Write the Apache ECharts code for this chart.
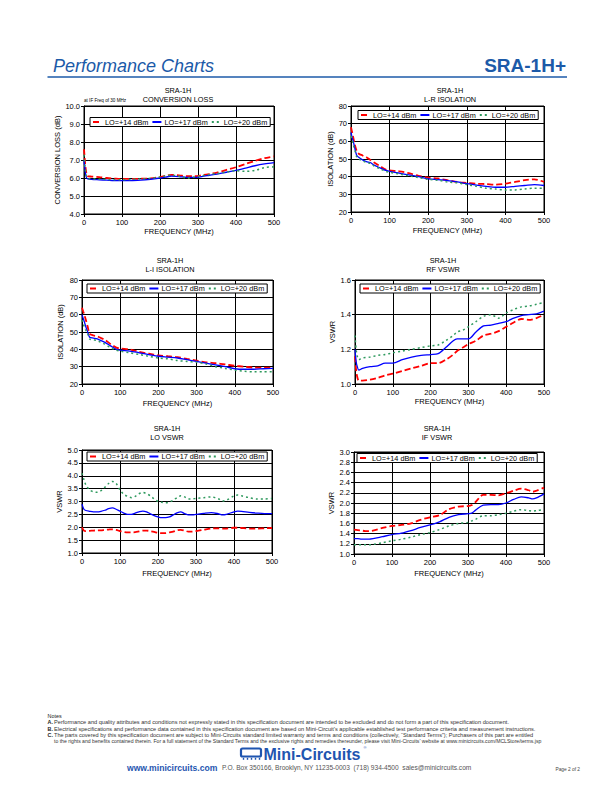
<!DOCTYPE html>
<html><head><meta charset="utf-8">
<script src="https://cdn.jsdelivr.net/npm/echarts@6/dist/echarts.min.js"></script>
<style>html,body{margin:0;padding:0;background:#fff}#c{width:612px;height:792px}</style>
</head><body><div id="c"></div>
<script>
// ---------------- DATA ----------------
const seriesNames = ['LO=+14 dBm', 'LO=+17 dBm', 'LO=+20 dBm'];
const partNo = 'SRA-1H';

// Conversion loss (dB)
const clFreq = [0,3,6,10,20,40,60,80,100,125,150,175,200,215,230,250,270,290,310,330,350,375,400,425,450,475,500];
const clLo14 = [7.6,6.8,6.3,6.1,6.08,6.05,6.0,5.97,5.95,5.95,5.96,5.98,6.05,6.12,6.17,6.15,6.1,6.1,6.15,6.22,6.3,6.45,6.6,6.78,6.95,7.1,7.2];
const clLo17 = [7.0,6.4,6.05,5.95,5.92,5.9,5.88,5.86,5.85,5.86,5.88,5.93,6.0,6.05,6.1,6.08,6.03,6.03,6.08,6.15,6.22,6.32,6.42,6.55,6.68,6.78,6.85];
const clLo20 = [7.3,6.6,6.15,5.98,5.95,5.93,5.92,5.9,5.9,5.92,5.95,5.98,6.05,6.12,6.15,6.1,6.0,6.05,6.12,6.2,6.25,6.33,6.4,6.37,6.42,6.58,6.62];

// L-R isolation (dB)
const lrFreq = [0,3,6,10,15,20,30,40,50,60,75,90,100,125,150,175,200,225,250,275,300,325,350,375,400,425,450,475,500];
const lrLo14 = [68,65,62,58,54.5,53,52,51,49.5,48,46,44,43.5,43,42,40.5,39.5,39,38,37,36.5,36,35.8,35.5,36,37,38,38.5,37];
const lrLo17 = [65,62,60,56,52,51,49.5,48.5,48,46.5,45,43.5,43,42,41,40,38.8,38.3,37.8,37,36,35.2,34.5,34,34,34.5,35,35.5,35];
const lrLo20 = [63,61,58,55,51,50,49,48,47.5,46,44.5,43,42.5,41.5,40.5,39.5,38.5,38,37,36.5,35.5,34.5,33.5,33,32.5,32.5,33,33.5,33.5];

// L-I isolation (dB)
const liFreq = [0,3,6,10,15,20,30,40,50,60,75,90,100,125,150,175,200,225,250,275,300,325,350,375,400,425,450,475,500];
const liLo14 = [64,62,60,57,53,49,48,47.5,46.5,45.5,43,41,40.5,40,38.5,37.5,36.5,36,35.5,34.5,33.5,32.5,32,31.3,30.5,30,29.5,29.5,29.5];
const liLo17 = [60,58,56,53,50,47,46.5,46,45,44,42,40,39.5,39,38,37,36,35.5,35,34,33,32,31,30,28.8,28.5,28.5,28.8,29];
const liLo20 = [57,55,53,51,49,46,45.5,45,44,43,41,39.5,39,38,37,36,35,34.5,33.5,33,32.5,31.5,30,29,28,27.3,27,27,27];

// RF VSWR
const rfFreq = [0,3,6,10,20,40,60,80,100,125,150,175,200,220,240,260,270,285,300,320,340,360,380,400,420,440,460,480,500];
const rfLo14 = [1.16,1.08,1.04,1.02,1.02,1.025,1.035,1.05,1.06,1.075,1.09,1.105,1.12,1.12,1.14,1.17,1.19,1.21,1.23,1.25,1.28,1.29,1.305,1.33,1.355,1.375,1.37,1.38,1.40];
const rfLo17 = [1.2,1.13,1.1,1.08,1.09,1.1,1.105,1.12,1.12,1.14,1.155,1.165,1.17,1.175,1.21,1.25,1.26,1.26,1.26,1.3,1.335,1.34,1.35,1.36,1.38,1.395,1.4,1.405,1.42];
const rfLo20 = [1.28,1.2,1.16,1.14,1.15,1.155,1.165,1.17,1.18,1.19,1.2,1.21,1.22,1.225,1.25,1.28,1.3,1.31,1.33,1.36,1.39,1.40,1.38,1.41,1.43,1.445,1.45,1.46,1.47];

// LO VSWR
const loFreq = [0,5,10,20,30,40,50,60,70,80,90,100,110,120,130,140,150,160,170,180,190,200,210,220,230,240,250,260,270,280,290,300,320,340,360,370,380,400,410,420,440,460,480,500];
const loLo14 = [2.0,1.87,1.85,1.86,1.87,1.88,1.88,1.9,1.91,1.92,1.9,1.85,1.82,1.8,1.8,1.81,1.84,1.87,1.87,1.85,1.82,1.78,1.77,1.77,1.8,1.83,1.88,1.9,1.87,1.83,1.83,1.85,1.9,1.95,1.96,1.95,1.95,1.98,1.98,1.97,1.95,1.95,1.96,1.97];
const loLo17 = [2.9,2.7,2.65,2.62,2.6,2.6,2.62,2.66,2.72,2.75,2.7,2.62,2.55,2.5,2.5,2.55,2.6,2.63,2.6,2.52,2.45,2.4,2.37,2.37,2.4,2.48,2.56,2.6,2.53,2.48,2.48,2.5,2.54,2.57,2.52,2.48,2.5,2.6,2.63,2.62,2.58,2.55,2.53,2.53];
const loLo20 = [4.1,3.85,3.65,3.45,3.38,3.36,3.42,3.55,3.7,3.78,3.7,3.45,3.28,3.2,3.15,3.2,3.3,3.35,3.3,3.22,3.1,3.0,2.97,2.95,2.98,3.05,3.15,3.22,3.18,3.1,3.1,3.12,3.15,3.18,3.1,3.02,3.05,3.22,3.25,3.22,3.15,3.1,3.1,3.12];

// IF VSWR
const ifFreq = [0,10,20,30,40,50,75,100,125,150,175,200,225,250,275,300,310,320,340,360,380,400,420,440,460,470,480,500];
const ifLo14 = [1.48,1.47,1.46,1.45,1.45,1.46,1.51,1.55,1.57,1.6,1.67,1.72,1.76,1.88,1.93,1.94,1.96,2.02,2.16,2.16,2.15,2.19,2.24,2.28,2.25,2.22,2.24,2.3];
const ifLo17 = [1.3,1.3,1.29,1.29,1.29,1.3,1.34,1.38,1.41,1.46,1.52,1.57,1.63,1.72,1.77,1.79,1.8,1.86,1.96,1.97,1.97,2.0,2.07,2.12,2.1,2.08,2.1,2.18];
const ifLo20 = [1.18,1.18,1.18,1.18,1.18,1.19,1.22,1.26,1.29,1.33,1.38,1.42,1.48,1.55,1.6,1.62,1.65,1.68,1.75,1.75,1.77,1.8,1.84,1.87,1.85,1.84,1.85,1.87];

const noteLines = [
  ['A.', 'Performance and quality attributes and conditions not expressly stated in this specification document are intended to be excluded and do not form a part of this specification document.'],
  ['B.', 'Electrical specifications and performance data contained in this specification document are based on Mini-Circuit\u2019s applicable established test performance criteria and measurement instructions.'],
  ['C.', 'The parts covered by this specification document are subject to Mini-Circuits standard limited warranty and terms and conditions (collectively, \u201cStandard Terms\u201d); Purchasers of this part are entitled'],
  ['', 'to the rights and benefits contained therein. For a full statement of the Standard Terms and the exclusive rights and remedies thereunder, please visit Mini-Circuits\u2019 website at www.minicircuits.com/MCLStore/terms.jsp']
];

// ---------------- LAYOUT ----------------
const FONT = '"Liberation Sans", Arial, Helvetica, sans-serif';
const BLUE_HDR = '#1c5aa8';
const panels = [
  {title:'CONVERSION LOSS', freq:clFreq, ys:[clLo14,clLo17,clLo20], ymin:4, ymax:10, yint:1, dec:1, yname:'CONVERSION LOSS (dB)',
   grid:{left:84, top:106, width:190, height:108}, leg:{left:90, top:117.5}, tx:178, ty:90, xGap:13, yGap:19},
  {title:'L-R ISOLATION', freq:lrFreq, ys:[lrLo14,lrLo17,lrLo20], ymin:20, ymax:80, yint:10, dec:0, yname:'ISOLATION (dB)',
   grid:{left:351, top:106, width:193, height:106}, leg:{left:358, top:110.5}, tx:450, ty:90, xGap:14, yGap:17},
  {title:'L-I ISOLATION', freq:liFreq, ys:[liLo14,liLo17,liLo20], ymin:20, ymax:80, yint:10, dec:0, yname:'ISOLATION (dB)',
   grid:{left:82, top:280, width:191, height:104}, leg:{left:87, top:284}, tx:170, ty:260, xGap:15, yGap:18},
  {title:'RF VSWR', freq:rfFreq, ys:[rfLo14,rfLo17,rfLo20], ymin:1.0, ymax:1.6, yint:0.2, dec:1, yname:'VSWR',
   grid:{left:355, top:280, width:189, height:104}, leg:{left:360, top:284}, tx:443, ty:260, xGap:13, yGap:19},
  {title:'LO VSWR', freq:loFreq, ys:[loLo14,loLo17,loLo20], ymin:1.0, ymax:5.0, yint:0.5, dec:1, yname:'VSWR',
   grid:{left:82, top:450, width:190, height:103}, leg:{left:87, top:452}, tx:167, ty:428, xGap:16, yGap:18},
  {title:'IF VSWR', freq:ifFreq, ys:[ifLo14,ifLo17,ifLo20], ymin:1.0, ymax:3.0, yint:0.2, dec:1, yname:'VSWR',
   grid:{left:354, top:452, width:190, height:102}, leg:{left:357, top:453.5}, tx:437, ty:428, xGap:15, yGap:19}
];
const lineStyles = [
  {color:'#ff0000', width:1.8, type:[6,3]},
  {color:'#0000ff', width:1.3, type:'solid'},
  {color:'#2f9a5e', width:1.5, type:[2,3]}
];
const noteRightEdges = [510, 537, 534, 543];

const grids = [], xAxes = [], yAxes = [], series = [], legends = [], graphics = [];
const axisCommon = {
  axisLine:{show:true, onZero:false, lineStyle:{color:'#000', width:1}},
  axisTick:{show:true, length:3, lineStyle:{color:'#000', width:1}},
  splitLine:{show:true, lineStyle:{color:'#000', width:1}}
};
panels.forEach((p, i) => {
  grids.push(Object.assign({show:true, borderColor:'#000', borderWidth:1, containLabel:false}, p.grid));
  xAxes.push(Object.assign({}, axisCommon, {
    type:'value', gridIndex:i, min:0, max:500, interval:100,
    name:'FREQUENCY (MHz)', nameLocation:'middle', nameGap:p.xGap,
    nameTextStyle:{fontSize:7.5, color:'#000', fontFamily:FONT},
    axisLabel:{fontSize:7.5, color:'#000', fontFamily:FONT, margin:4}
  }));
  yAxes.push(Object.assign({}, axisCommon, {
    type:'value', gridIndex:i, min:p.ymin, max:p.ymax, interval:p.yint,
    name:p.yname, nameLocation:'middle', nameGap:p.yGap, nameRotate:90,
    nameTextStyle:{fontSize:7.5, color:'#000', fontFamily:FONT},
    axisLabel:{fontSize:7.5, color:'#000', fontFamily:FONT, margin:4,
      formatter: v => Number(v).toFixed(p.dec)}
  }));
  seriesNames.forEach((nm, k) => {
    series.push({
      type:'line', name:nm, xAxisIndex:i, yAxisIndex:i,
      data: p.freq.map((f, j) => [f, p.ys[k][j]]),
      symbol:'none', showSymbol:false, smooth:0.3, clip:true,
      lineStyle:Object.assign({}, lineStyles[k]),
      itemStyle:{color:lineStyles[k].color},
      animation:false
    });
  });
  legends.push({
    left:p.leg.left, top:p.leg.top, orient:'horizontal',
    data:seriesNames, selectedMode:false,
    itemWidth:9, itemHeight:6, itemGap:3, padding:[1,3,1,2],
    itemStyle:{opacity:0, borderWidth:0},
    lineStyle:{opacity:1},
    borderColor:'#000', borderWidth:1, backgroundColor:'#fff',
    textStyle:{fontSize:7.3, color:'#000', fontFamily:FONT, padding:[0,0,0,-2]}
  });
  graphics.push({type:'text', x:p.tx, y:p.ty, style:{text:partNo, font:'7.3px ' + FONT, fill:'#000', align:'center', verticalAlign:'middle'}});
  graphics.push({type:'text', x:p.tx, y:p.ty + 9.5, style:{text:p.title, font:'7.3px ' + FONT, fill:'#000', align:'center', verticalAlign:'middle'}});
});

// small note on conversion loss chart
graphics.push({type:'text', x:84, y:100.5, style:{text:'at IF Freq of 30 MHz', font:'4.6px ' + FONT, fill:'#000', align:'left', verticalAlign:'middle'}});

// Header
graphics.push({type:'text', x:53, y:65.5, style:{text:'Performance Charts', font:'italic 18px ' + FONT, fill:BLUE_HDR, align:'left', verticalAlign:'middle'}});
graphics.push({type:'text', x:566, y:65.5, style:{text:'SRA-1H+', font:'bold 19px ' + FONT, fill:BLUE_HDR, align:'right', verticalAlign:'middle'}});
graphics.push({type:'line', shape:{x1:47.5, y1:77, x2:567, y2:77}, style:{stroke:BLUE_HDR, lineWidth:1.3}});

// Notes (font size fitted per line to the reference line length)
const mctx = document.createElement('canvas').getContext('2d');
mctx.font = '10px ' + FONT;
graphics.push({type:'text', x:47.5, y:716, style:{text:'Notes', font:'5.4px ' + FONT, fill:'#222', align:'left', verticalAlign:'middle'}});
noteLines.forEach((ln, i) => {
  const y = 722.3 + i * 6.3;
  const bodyX = 54;
  const w = mctx.measureText(ln[1]).width;
  let fs = 10 * (noteRightEdges[i] - bodyX) / w;
  fs = Math.max(4.5, Math.min(6.2, fs));
  if (ln[0]) graphics.push({type:'text', x:47.5, y:y, style:{text:ln[0], font:'bold 5.4px ' + FONT, fill:'#222', align:'left', verticalAlign:'middle'}});
  graphics.push({type:'text', x:bodyX, y:y, style:{text:ln[1], font:fs.toFixed(2) + 'px ' + FONT, fill:'#333', align:'left', verticalAlign:'middle'}});
});

// Footer logo
graphics.push({type:'rect', shape:{x:241, y:748.5, width:20, height:8, r:1.5}, style:{fill:'none', stroke:'#1f55b0', lineWidth:2.2}});
[243.5, 247.5, 251.5, 255.5, 259.5].forEach(px => {
  graphics.push({type:'rect', shape:{x:px - 0.7, y:757.8, width:1.4, height:2}, style:{fill:'#1f55b0'}});
});
graphics.push({type:'text', x:263.5, y:754, style:{text:'Mini-Circuits', font:'bold 16px ' + FONT, fill:'#1f55b0', align:'left', verticalAlign:'middle'}});
graphics.push({type:'text', x:363.5, y:747, style:{text:'\u00ae', font:'4px ' + FONT, fill:'#1f55b0', align:'left', verticalAlign:'middle'}});
graphics.push({type:'text', x:127, y:767.5, style:{text:'www.minicircuits.com', font:'bold 8.6px ' + FONT, fill:'#1f55b0', align:'left', verticalAlign:'middle'}});
graphics.push({type:'text', x:222, y:767.5, style:{text:'P.O. Box 350166, Brooklyn, NY 11235-0003  (718) 934-4500  sales@minicircuits.com', font:'6.6px ' + FONT, fill:'#555', align:'left', verticalAlign:'middle'}});
graphics.push({type:'text', x:555.5, y:769.5, style:{text:'Page 2 of 2', font:'4.8px ' + FONT, fill:'#444', align:'left', verticalAlign:'middle'}});

const chart = echarts.init(document.getElementById('c'), null, {renderer:'svg', width:612, height:792});
chart.setOption({
  animation:false,
  backgroundColor:'#fff',
  textStyle:{fontFamily:FONT},
  grid:grids, xAxis:xAxes, yAxis:yAxes, series:series, legend:legends,
  graphic:{elements:graphics}
});
</script></body></html>
